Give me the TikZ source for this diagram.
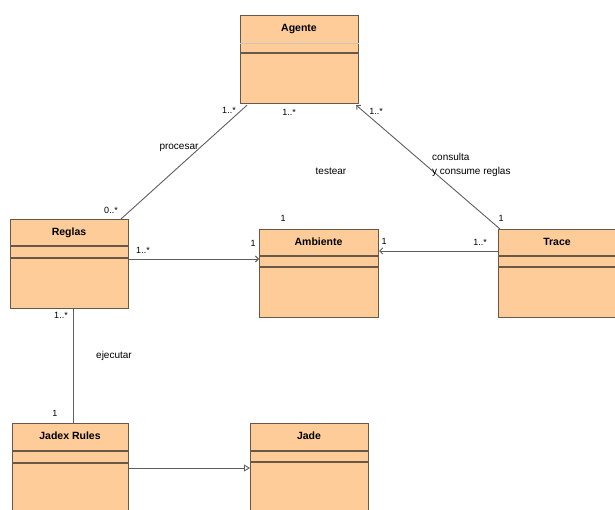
\documentclass[tikz,border=0pt]{standalone}
\usepackage{fontspec}
\setmainfont{Liberation Sans}
\usetikzlibrary{calc,arrows.meta}
\definecolor{classfill}{RGB}{254,204,153}
\definecolor{classline}{RGB}{105,88,70}
\definecolor{conn}{RGB}{95,95,95}
\tikzset{
  cls/.style={draw=classline, fill=classfill, line width=1.2pt, anchor=north west, inner sep=0pt},
  ttl/.style={font=\bfseries\fontsize{10.5}{12}\selectfont, anchor=center, inner sep=0pt},
  sep/.style={draw=classline, line width=1.1pt},
  lite/.style={draw=classline!35, line width=0.8pt},
  assoc/.style={draw=conn, line width=0.9pt},
  mult/.style={font=\fontsize{9}{10}\selectfont, inner sep=0pt},
  lbl/.style={font=\fontsize{10}{14}\selectfont, inner sep=0pt, align=left},
  barb/.style={-{Straight Barb[length=3pt,width=6pt]}},
  gen/.style={-{Triangle[open,length=6pt,width=7pt]}}
}
\begin{document}
\begin{tikzpicture}[x=1pt,y=-1pt]
\useasboundingbox (0,0) rectangle (615,510);
% classes
\node[cls, minimum width=118pt, minimum height=88pt] (agente) at (240,15) {};
\node[ttl] (tagente) at (299,29) {Agente};
\draw[lite] ($(agente.north west)+(0,28)$) -- ($(agente.north east)+(0,28)$);
\draw[sep] ($(agente.north west)+(0,38)$) -- ($(agente.north east)+(0,38)$);

\node[cls, minimum width=118pt, minimum height=89pt] (reglas) at (10,219) {};
\node[ttl] (treglas) at (69,233) {Reglas};
\draw[sep] ($(reglas.north west)+(0,27)$) -- ($(reglas.north east)+(0,27)$);
\draw[sep] ($(reglas.north west)+(0,39)$) -- ($(reglas.north east)+(0,39)$);

\node[cls, minimum width=119pt, minimum height=88pt] (ambiente) at (259,229) {};
\node[ttl] (tambiente) at (318.5,242) {Ambiente};
\draw[sep] ($(ambiente.north west)+(0,27)$) -- ($(ambiente.north east)+(0,27)$);
\draw[sep] ($(ambiente.north west)+(0,38)$) -- ($(ambiente.north east)+(0,38)$);

\node[cls, minimum width=130pt, minimum height=88pt] (trace) at (498,229) {};
\node[ttl] (ttrace) at (557,242) {Trace};
\draw[sep] ($(trace.north west)+(0,27)$) -- ($(trace.north east)+(0,27)$);
\draw[sep] ($(trace.north west)+(0,38)$) -- ($(trace.north east)+(0,38)$);

\node[cls, minimum width=116pt, minimum height=100pt] (jadex) at (12,423) {};
\node[ttl] (tjadex) at (70,436) {Jadex Rules};
\draw[sep] ($(jadex.north west)+(0,28)$) -- ($(jadex.north east)+(0,28)$);
\draw[sep] ($(jadex.north west)+(0,40)$) -- ($(jadex.north east)+(0,40)$);

\node[cls, minimum width=118pt, minimum height=100pt] (jade) at (250,423) {};
\node[ttl] (tjade) at (309,436) {Jade};
\draw[sep] ($(jade.north west)+(0,28)$) -- ($(jade.north east)+(0,28)$);
\draw[sep] ($(jade.north west)+(0,39)$) -- ($(jade.north east)+(0,39)$);

% connectors
\draw[assoc] ($(agente.south west)+(7,1)$) -- ($(reglas.north west)+(111,0)$);
\draw[assoc, barb] ($(trace.north west)+(2,0)$) -- ($(agente.south east)+(-3,1)$);
\draw[assoc, barb] ($(reglas.north east)+(0,40)$) -- ($(ambiente.north west)+(0,30)$);
\draw[assoc, barb] ($(trace.north west)+(0,22)$) -- ($(ambiente.north east)+(0,22)$);
\draw[assoc] ($(reglas.south west)+(63,0)$) -- ($(jadex.north west)+(61,0)$);
\draw[assoc, gen] ($(jadex.north east)+(0,45)$) -- ($(jade.north west)+(0,45)$);

% multiplicities and labels
\node[mult] (m1) at (229,110) {1..*};
\node[mult] (m2) at (111,210) {0..*};
\node[lbl] (l1) at (179,148) {procesar};
\node[mult] (m3) at (289,112) {1..*};
\node[mult] (m4) at (283,218) {1};
\node[lbl] (l2) at (331,171) {testear};
\node[mult] (m5) at (376,111) {1..*};
\node[mult] (m6) at (501,218) {1};
\node[lbl, anchor=west] (l3) at (432,165) {consulta\\y consume reglas};
\node[mult] (m7) at (143,250) {1..*};
\node[mult] (m8) at (253,243) {1};
\node[mult] (m9) at (384,241) {1};
\node[mult] (m10) at (480,242) {1..*};
\node[mult] (m11) at (61,315) {1..*};
\node[mult] (m12) at (55,413) {1};
\node[lbl] (l4) at (114,356) {ejecutar};
\end{tikzpicture}
\end{document}
